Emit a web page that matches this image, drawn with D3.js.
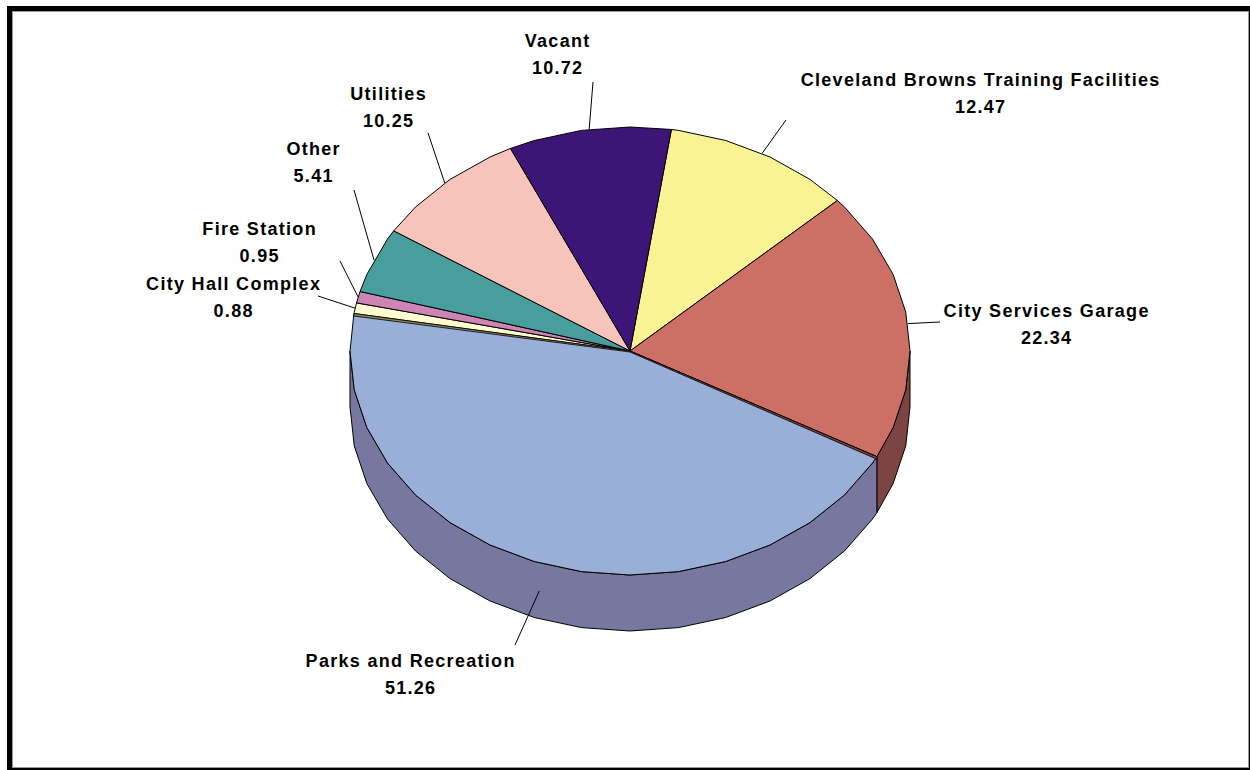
<!DOCTYPE html>
<html>
<head>
<meta charset="utf-8">
<script src="https://cdn.jsdelivr.net/npm/d3@7"></script>
<style>
  body { margin: 0; background: #ffffff; }
  svg { display: block; }
</style>
</head>
<body>
<svg id="chart" width="1250" height="770"></svg>
<script>
// Acreage by use, in drawing order (clockwise)
const categories = [
  "Cleveland Browns Training Facilities",
  "City Services Garage",
  "Parks and Recreation",
  "City Hall Complex",
  "Fire Station",
  "Other",
  "Utilities",
  "Vacant"
];
const values = [12.47, 22.34, 51.26, 0.88, 0.95, 5.41, 10.25, 10.72];
const valueLabels = ["12.47", "22.34", "51.26", "0.88", "0.95", "5.41", "10.25", "10.72"];

const topColors  = ["#f9f393", "#cc7066", "#99afd8", "#fffbd0", "#cc85b5", "#479e9c", "#f7c4bc", "#3d1577"];
const sideColors = ["#7c7a4a", "#7c4442", "#77779f", "#808068", "#66425a", "#244f4e", "#7c625e", "#1e0b3c"];

// Label layout: centre of first text line, and where each leader line starts
const labelPos    = [[980, 79], [1046, 310], [410, 660], [233, 283], [259, 228], [313, 148], [388, 93], [557, 40]];
const leaderStart = [[786, 120], [940, 322], [515, 645], [318, 296], [340, 261], [354, 190], [428, 133], [593, 82]];

const svg = d3.select("#chart");
const W = 1250, H = 770;

// Chart frame
svg.append("rect").attr("x", 9.5).attr("y", 8.5).attr("width", 1242).attr("height", 762)
  .attr("fill", "#ffffff").attr("stroke", "#000000").attr("stroke-width", 5);
svg.append("rect").attr("x", 12.5).attr("y", 11.5).attr("width", 1236).attr("height", 756)
  .attr("fill", "none").attr("stroke", "#9a9a9a").attr("stroke-width", 1);

// Tilted pie geometry
const cx = 630, cy = 351, rx = 280, ry = 224, depth = 56;
const startAngle = 8.5 * Math.PI / 180;

const sx = d3.scaleLinear().domain([-1, 1]).range([cx - rx, cx + rx]);
const sy = d3.scaleLinear().domain([-1, 1]).range([cy - ry, cy + ry]);
const pt = (a, dz = 0) => [sx(Math.sin(a)), sy(-Math.cos(a)) + dz];

const pie = d3.pie().sort(null).value(d => d)
  .startAngle(startAngle).endAngle(startAngle + 2 * Math.PI);
const arcs = pie(values);

// Rim sample angles: a coarse shared grid plus the slice ends
const STEP = 10 * Math.PI / 180;
function samples(a0, a1) {
  const out = [a0];
  let k = Math.ceil(a0 / STEP + 1e-6);
  while (k * STEP < a1 - 1e-6) { out.push(k * STEP); k++; }
  out.push(a1);
  return out;
}

const line = d3.line();

// Side walls on the front half of the rim
const sideG = svg.append("g");
arcs.forEach((d, i) => {
  const lo = Math.max(d.startAngle, Math.PI / 2);
  const hi = Math.min(d.endAngle, 3 * Math.PI / 2);
  if (hi <= lo) return;
  const a = samples(lo, hi);
  const topPts = a.map(t => pt(t));
  const botPts = a.slice().reverse().map(t => pt(t, depth));
  sideG.append("path")
    .attr("d", line(topPts.concat(botPts)) + "Z")
    .attr("fill", sideColors[i])
    .attr("stroke", "#000000").attr("stroke-width", 1).attr("stroke-linejoin", "round");
});

// Top faces
const topG = svg.append("g");
arcs.forEach((d, i) => {
  const a = samples(d.startAngle, d.endAngle);
  const pts = [[cx, cy]].concat(a.map(t => pt(t)));
  topG.append("path")
    .attr("d", line(pts) + "Z")
    .attr("fill", topColors[i])
    .attr("stroke", "#000000").attr("stroke-width", 1).attr("stroke-linejoin", "round");
});

// Thin wall bands along the two lower radial seams
[arcs[1].endAngle, arcs[2].endAngle].forEach((t, k) => {
  const p = pt(t);
  const band = [[cx, cy], p, [p[0], p[1] + 2.5], [cx, cy + 1]];
  topG.append("path")
    .attr("d", line(band) + "Z")
    .attr("fill", k === 0 ? sideColors[1] : "#8a8a60")
    .attr("stroke", "#000000").attr("stroke-width", 0.8);
});

// Leader lines: to the rim at each slice's mid angle (front slices meet the wall mid-depth)
const leadG = svg.append("g");
arcs.forEach((d, i) => {
  const mid = (d.startAngle + d.endAngle) / 2;
  const front = Math.cos(mid) < 0;
  const end = pt(mid, front ? depth / 2 : 0);
  leadG.append("line")
    .attr("x1", leaderStart[i][0]).attr("y1", leaderStart[i][1])
    .attr("x2", end[0]).attr("y2", end[1])
    .attr("stroke", "#000000").attr("stroke-width", 1);
});

// Category and value labels
const labG = svg.append("g")
  .attr("font-family", "'Liberation Sans', Arial, Helvetica, sans-serif")
  .attr("font-weight", "bold").attr("font-size", 18)
  .attr("letter-spacing", "1.3px").attr("fill", "#000000")
  .attr("text-anchor", "middle");
arcs.forEach((d, i) => {
  const [lx, ly] = labelPos[i];
  labG.append("text").attr("x", lx + 0.65).attr("y", ly + 6.5).text(categories[i]);
  labG.append("text").attr("x", lx + 0.65).attr("y", ly + 33.5).text(valueLabels[i]);
});
</script>
</body>
</html>
